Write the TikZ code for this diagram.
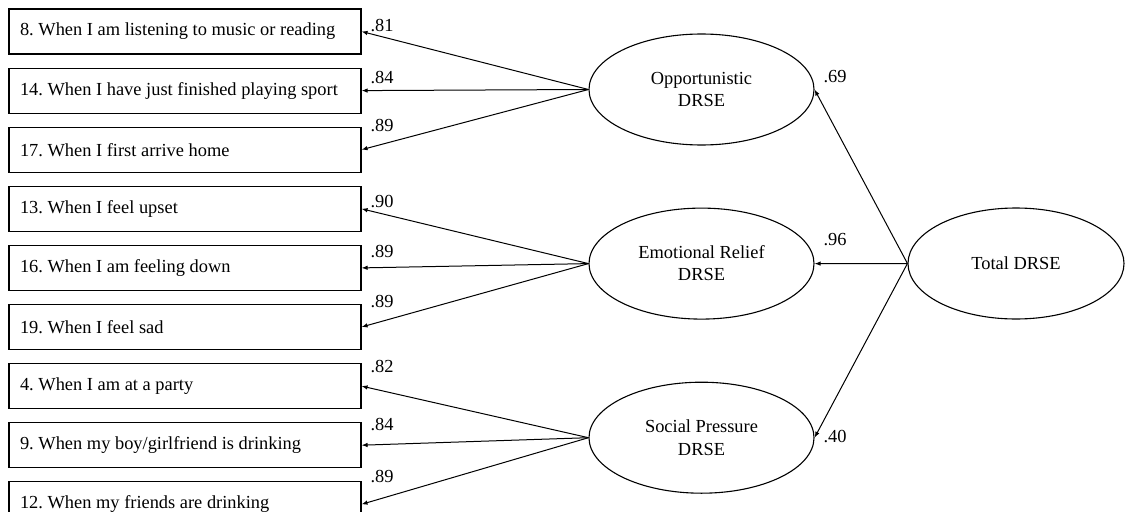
\documentclass[tikz,border=0pt]{standalone}
\usepackage{fontspec}
\setmainfont{Liberation Serif}
\usetikzlibrary{arrows.meta,positioning,shapes}

\begin{document}
\begin{tikzpicture}[x=1pt,y=-1pt,
    font=\fontsize{18.4}{22}\selectfont,
    item/.style={draw,rectangle,line width=1.1pt,text width=330pt,inner xsep=11pt,
      inner ysep=0pt,minimum height=45pt,align=flush left,
      execute at begin node={\frenchspacing}},
    factor/.style={draw,ellipse,line width=1.1pt,minimum width=225pt,
      minimum height=111pt,inner sep=0pt,align=center},
    load/.style={line width=1pt,-{Latex[length=6pt,width=4.5pt]}}]
      \useasboundingbox (0,0) rectangle (1126,511);

      % observed items
      \node[item] (i8) at (185,31.5) {8. When I am listening to music or reading};
      \node[item,below = 13pt of i8] (i14) {14. When I have just finished playing sport};
      \node[item,below = 13pt of i14] (i17) {17. When I first arrive home};
      \node[item,below = 13pt of i17] (i13) {13. When I feel upset};
      \node[item,below = 13pt of i13] (i16) {16. When I am feeling down};
      \node[item,below = 13pt of i16] (i19) {19. When I feel sad};
      \node[item,below = 13pt of i19] (i4) {4. When I am at a party};
      \node[item,below = 13pt of i4] (i9) {9. When my boy/girlfriend is drinking};
      \node[item,below = 13pt of i9] (i12) {12. When my friends are drinking};

      % first order factors
      \node[factor] (opp) at (701.5,89.5) {Opportunistic\\DRSE};
      \node[factor,below = 62pt of opp] (emo) {Emotional Relief\\DRSE};
      \node[factor,below = 62pt of emo] (soc) {Social Pressure\\DRSE};

      % second order factor
      \node[factor,minimum width=216pt] (tot) at (1016,263.5) {Total DRSE};

      \draw[load] (opp.west)--(i8.east);
      \draw[load] (opp.west)--(i14.east);
      \draw[load] (opp.west)--(i17.east);
      \draw[load] (emo.west)--(i13.east);
      \draw[load] (emo.west)--(i16.east);
      \draw[load] (emo.west)--(i19.east);
      \draw[load] (soc.west)--(i4.east);
      \draw[load] (soc.west)--(i9.east);
      \draw[load] (soc.west)--(i12.east);

      \draw[load] (tot.west)--(opp.east);
      \draw[load] (tot.west)--(emo.east);
      \draw[load] (tot.west)--(soc.east);

      % loadings
      \node (w8) at (382,26) {.81};
      \node (w14) at (382,78) {.84};
      \node (w17) at (382,126) {.89};
      \node (w13) at (382,202) {.90};
      \node (w16) at (382,252) {.89};
      \node (w19) at (382,302) {.89};
      \node (w4) at (382,367) {.82};
      \node (w9) at (382,425) {.84};
      \node (w12) at (382,477) {.89};
      \node (wopp) at (835,77) {.69};
      \node (wemo) at (835,240) {.96};
      \node (wsoc) at (835,437) {.40};
\end{tikzpicture}
\end{document}
